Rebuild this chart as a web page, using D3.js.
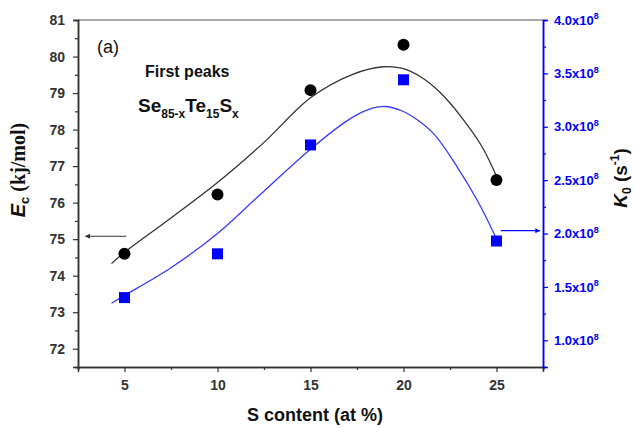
<!DOCTYPE html>
<html>
<head>
<meta charset="utf-8">
<script src="https://cdn.jsdelivr.net/npm/d3@7"></script>
<style>
  html, body { margin: 0; padding: 0; background: #fff; }
  svg { display: block; font-family: "Liberation Sans", Arial, sans-serif; }
</style>
</head>
<body>
<svg id="chart" width="634" height="428"></svg>
<script>
// ---------- data ----------
const sContent   = [5, 10, 15, 20, 25];
const ecValues   = [74.6, 76.22, 79.08, 80.32, 76.62];          // kJ/mol (left axis)
const k0Values   = [1.40e8, 1.81e8, 2.83e8, 3.44e8, 1.93e8];   // s^-1 (right axis)

// fitted curves
const ecFitS     = [4.3, 5, 7.5, 10, 12.5, 15, 17.2, 18.9, 19.9, 21, 22, 23.1, 24.2, 25];
const ecFitVals  = [74.33, 74.64, 75.58, 76.55, 77.65, 78.87, 79.5, 79.72, 79.68, 79.42, 79.0, 78.35, 77.55, 76.72];
const k0FitS     = [4.3, 5, 7.5, 10, 12.2, 15, 17, 18.1, 19, 19.9, 20.7, 21.7, 22.9, 24, 25];
const k0FitVals  = [1.347e8, 1.42e8, 1.68e8, 2.0e8, 2.35e8, 2.79e8, 3.06e8, 3.16e8, 3.19e8, 3.15e8, 3.07e8, 2.92e8, 2.62e8, 2.30e8, 1.95e8];

// ticks
const xMajor  = [5, 10, 15, 20, 25];
const xMinor  = [2.5, 7.5, 12.5, 17.5, 22.5, 27.5];
const yLMajor = [72, 73, 74, 75, 76, 77, 78, 79, 80, 81];
const yLMinor = [71.5, 72.5, 73.5, 74.5, 75.5, 76.5, 77.5, 78.5, 79.5, 80.5];
const yRMajor = [1.0e8, 1.5e8, 2.0e8, 2.5e8, 3.0e8, 3.5e8, 4.0e8];
const yRMinor = [0.75e8, 1.25e8, 1.75e8, 2.25e8, 2.75e8, 3.25e8, 3.75e8];

// ---------- layout ----------
const L = 78, R = 543, T = 20, B = 367;
const BLUE = "#0000ff";
const svg = d3.select("#chart");

const x  = d3.scaleLinear().domain([2.5, 27.5]).range([L, R]);
const yL = d3.scaleLinear().domain([71.5, 81]).range([B, T]);
const yR = d3.scaleLinear().domain([0.75e8, 4.0e8]).range([B, T]);

// top frame line
svg.append("line").attr("x1", L).attr("x2", R).attr("y1", T).attr("y2", T)
  .attr("stroke", "#555").attr("stroke-width", 1);

function styleAxis(g, color) {
  g.select(".domain").attr("stroke", color).attr("stroke-width", 1.5);
  g.selectAll(".tick line").attr("stroke", color).attr("stroke-width", 1.2);
  g.selectAll(".tick text").attr("fill", color).attr("font-weight", "bold")
    .attr("font-family", "Liberation Sans, Arial, sans-serif");
}

// bottom axis
const gxMinor = svg.append("g").attr("transform", `translate(0,${B})`)
  .call(d3.axisBottom(x).tickValues(xMinor).tickSize(3).tickFormat(""));
styleAxis(gxMinor, "#333");
const gx = svg.append("g").attr("transform", `translate(0,${B})`)
  .call(d3.axisBottom(x).tickValues(xMajor).tickSize(5).tickPadding(8).tickFormat(d3.format("d")));
styleAxis(gx, "#333");
gx.selectAll(".tick text").attr("font-size", 14);

// left axis
const gyLMinor = svg.append("g").attr("transform", `translate(${L},0)`)
  .call(d3.axisLeft(yL).tickValues(yLMinor).tickSize(3).tickFormat(""));
styleAxis(gyLMinor, "#333");
const gyL = svg.append("g").attr("transform", `translate(${L},0)`)
  .call(d3.axisLeft(yL).tickValues(yLMajor).tickSize(5).tickPadding(8).tickFormat(d3.format("d")));
styleAxis(gyL, "#333");
gyL.selectAll(".tick text").attr("font-size", 14);

// right axis
const gyRMinor = svg.append("g").attr("transform", `translate(${R},0)`)
  .call(d3.axisRight(yR).tickValues(yRMinor).tickSize(3).tickFormat(""));
styleAxis(gyRMinor, BLUE);
const gyR = svg.append("g").attr("transform", `translate(${R},0)`)
  .call(d3.axisRight(yR).tickValues(yRMajor).tickSize(5).tickPadding(6)
    .tickFormat(d => (d / 1e8).toFixed(1)));
styleAxis(gyR, BLUE);
gyR.selectAll(".tick text").attr("font-size", 13).each(function(d) {
  const t = d3.select(this);
  const m = (d / 1e8).toFixed(1);
  t.text(null);
  t.append("tspan").text(m + "x10");
  t.append("tspan").attr("font-size", 9).attr("dy", "-0.6em").text("8");
});

// ---------- fitted curves ----------
const lineL = d3.line().x((d, i) => x(ecFitS[i])).y(d => yL(d)).curve(d3.curveCatmullRom.alpha(0.5));
svg.append("path").attr("d", lineL(ecFitVals)).attr("fill", "none")
  .attr("stroke", "#333").attr("stroke-width", 1.3);
const lineR = d3.line().x((d, i) => x(k0FitS[i])).y(d => yR(d)).curve(d3.curveCatmullRom.alpha(0.5));
svg.append("path").attr("d", lineR(k0FitVals)).attr("fill", "none")
  .attr("stroke", "#3a3aff").attr("stroke-width", 1.3);

// ---------- markers ----------
svg.append("g").selectAll("circle").data(ecValues).join("circle")
  .attr("cx", (d, i) => x(sContent[i])).attr("cy", d => yL(d)).attr("r", 6)
  .attr("fill", "#000");
const sq = 11;
svg.append("g").selectAll("rect").data(k0Values).join("rect")
  .attr("x", (d, i) => x(sContent[i]) - sq / 2).attr("y", d => yR(d) - sq / 2)
  .attr("width", sq).attr("height", sq).attr("fill", BLUE);

// ---------- arrows ----------
const defs = svg.append("defs");
function arrowMarker(id, color) {
  defs.append("marker").attr("id", id).attr("viewBox", "0 0 10 10")
    .attr("refX", 9).attr("refY", 5).attr("markerWidth", 7).attr("markerHeight", 5)
    .attr("markerUnits", "userSpaceOnUse").attr("orient", "auto")
    .append("path").attr("d", "M0,0 L10,5 L0,10 Z").attr("fill", color);
}
arrowMarker("arrK", "#333");
arrowMarker("arrB", BLUE);
svg.append("line").attr("x1", x(5.1)).attr("x2", x(2.9)).attr("y1", yL(75.08)).attr("y2", yL(75.08))
  .attr("stroke", "#333").attr("stroke-width", 1.2).attr("marker-end", "url(#arrK)");
svg.append("line").attr("x1", x(25.23)).attr("x2", x(27.33)).attr("y1", yR(2.027e8)).attr("y2", yR(2.027e8))
  .attr("stroke", BLUE).attr("stroke-width", 1.2).attr("marker-end", "url(#arrB)");

// ---------- annotations ----------
svg.append("text").attr("x", 97).attr("y", 53).attr("font-size", 18).attr("fill", "#111").text("(a)");
svg.append("text").attr("x", 145).attr("y", 77).attr("font-size", 16).attr("font-weight", "bold")
  .attr("fill", "#111").text("First peaks");
const comp = svg.append("text").attr("x", 138).attr("y", 112).attr("font-size", 19)
  .attr("font-weight", "bold").attr("fill", "#111");
comp.append("tspan").text("Se");
comp.append("tspan").attr("font-size", 12).attr("dy", 6).text("85-x");
comp.append("tspan").attr("dy", -6).text("Te");
comp.append("tspan").attr("font-size", 12).attr("dy", 6).text("15");
comp.append("tspan").attr("dy", -6).text("S");
comp.append("tspan").attr("font-size", 12).attr("dy", 6).text("x");

// axis titles
svg.append("text").attr("x", 315).attr("y", 421).attr("text-anchor", "middle")
  .attr("font-size", 18).attr("font-weight", "bold").attr("fill", "#111").text("S content (at %)");

const tl = svg.append("text").attr("transform", "translate(25,170) rotate(-90)")
  .attr("text-anchor", "middle").attr("font-size", 20).attr("font-weight", "bold").attr("fill", "#111");
tl.append("tspan").attr("font-style", "italic").text("E");
tl.append("tspan").attr("font-size", 13).attr("dy", 4).text("c");
tl.append("tspan").attr("dy", -4).attr("font-family", "Liberation Serif, Times New Roman, serif").text(" (kj/mol)");

const tr = svg.append("text").attr("transform", "translate(627,178) rotate(-90)")
  .attr("text-anchor", "middle").attr("font-size", 19).attr("font-weight", "bold").attr("fill", "#111");
tr.append("tspan").attr("font-style", "italic").text("K");
tr.append("tspan").attr("font-size", 12).attr("dy", 4).text("0");
tr.append("tspan").attr("dy", -4).text(" (s");
tr.append("tspan").attr("font-size", 12).attr("dy", -8).text("-1");
tr.append("tspan").attr("dy", 8).text(")");
</script>
</body>
</html>
